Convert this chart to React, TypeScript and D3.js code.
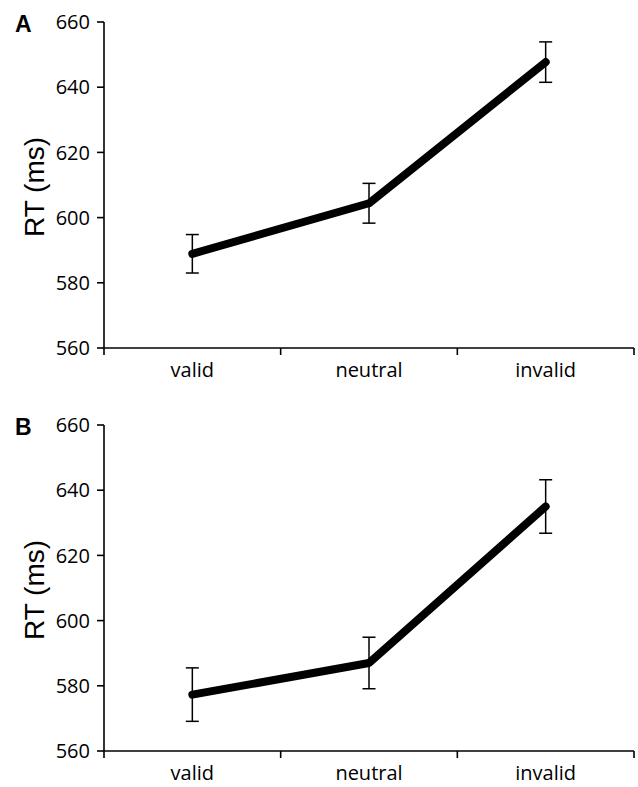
import React from "react";
import * as d3 from "d3";

const conditions = ["valid", "neutral", "invalid"];
const yTicks = [560, 580, 600, 620, 640, 660];

// panel A
const rtA = [588.9, 604.4, 647.7];
const errA = [5.9, 6.1, 6.2];

// panel B
const rtB = [577.3, 587.0, 635.0];
const errB = [8.2, 7.9, 8.2];

const panels = [
  { label: "A", rt: rtA, err: errA, top: 22 },
  { label: "B", rt: rtB, err: errB, top: 425 },
];

const width = 638;
const height = 787;
const marginLeft = 104;
const marginRight = 4;
const plotHeight = 326;
const tickFont = "'Open Sans', sans-serif";

function Panel({ label, rt, err, top }) {
  const x = d3
    .scaleBand()
    .domain(conditions)
    .range([marginLeft, width - marginRight]);

  const y = d3
    .scaleLinear()
    .domain([560, 660])
    .range([top + plotHeight, top]);

  const cx = (c) => x(c) + x.bandwidth() / 2;
  const bottom = y(560);

  const line = d3
    .line()
    .x((d, i) => cx(conditions[i]))
    .y((d) => y(d));

  // band edges carry the x ticks (excel style)
  const edges = conditions.map((c) => x(c)).concat([width - marginRight]);

  return (
    <g>
      <text x={15} y={top + 10} fontFamily="Arial, 'Liberation Sans', sans-serif" fontWeight="bold" fontSize={23} fill="#000">
        {label}
      </text>
      <text
        transform={`translate(44, ${(top + bottom) / 2 + 2}) rotate(-90)`}
        textAnchor="middle"
        fontFamily="Arial, 'Liberation Sans', sans-serif"
        fontSize={28}
        fill="#000"
      >
        RT (ms)
      </text>

      {/* y axis */}
      <line x1={marginLeft} x2={marginLeft} y1={top} y2={bottom} stroke="#000" strokeWidth={1.6} />
      {yTicks.map((t) => (
        <g key={t}>
          <line x1={marginLeft - 7} x2={marginLeft} y1={y(t)} y2={y(t)} stroke="#000" strokeWidth={1.6} />
          <text x={marginLeft - 14} y={y(t)} dy="0.36em" textAnchor="end" fontFamily={tickFont} fontSize={20} fill="#000">
            {t}
          </text>
        </g>
      ))}

      {/* x axis */}
      <line x1={marginLeft} x2={width - marginRight} y1={bottom} y2={bottom} stroke="#000" strokeWidth={1.6} />
      {edges.map((e, i) => (
        <line key={i} x1={e} x2={e} y1={bottom} y2={bottom + 7} stroke="#000" strokeWidth={1.6} />
      ))}
      {conditions.map((c) => (
        <text key={c} x={cx(c)} y={bottom + 29} textAnchor="middle" fontFamily={tickFont} fontSize={20} fill="#000">
          {c}
        </text>
      ))}

      {/* error bars */}
      {rt.map((v, i) => {
        const px = cx(conditions[i]);
        return (
          <g key={i} stroke="#000" strokeWidth={1.5}>
            <line x1={px} x2={px} y1={y(v + err[i])} y2={y(v - err[i])} />
            <line x1={px - 6.5} x2={px + 6.5} y1={y(v + err[i])} y2={y(v + err[i])} />
            <line x1={px - 6.5} x2={px + 6.5} y1={y(v - err[i])} y2={y(v - err[i])} />
          </g>
        );
      })}

      <path d={line(rt)} fill="none" stroke="#000" strokeWidth={8} strokeLinecap="round" strokeLinejoin="round" />
    </g>
  );
}

export default function App() {
  return (
    <svg
      width={width}
      height={height}
      style={{ position: "absolute", left: 0, top: 0, background: "#fff" }}
    >
      {panels.map((p) => (
        <Panel key={p.label} {...p} />
      ))}
    </svg>
  );
}
